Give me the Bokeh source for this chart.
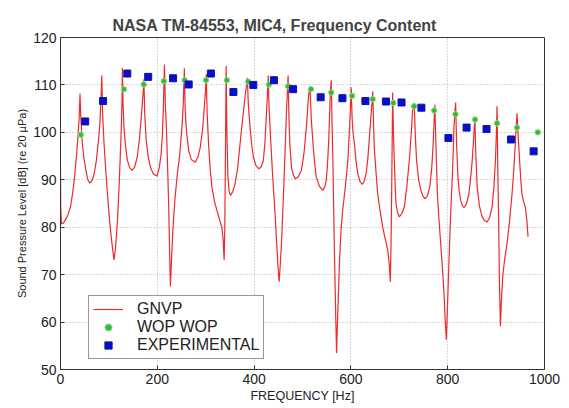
from bokeh.plotting import figure
from bokeh.models import ColumnDataSource, Legend, LegendItem, Range1d, FixedTicker
from bokeh.embed import file_html
from bokeh.resources import INLINE

# ---- data ----
gnvp_freq = [0, 0.5, 2, 6, 11, 16, 21, 25.5, 29, 33, 36, 38.5, 40.3,
             42, 45, 48.5, 52.5, 56.5, 60.5, 65, 69.5, 74, 78.5, 81.5, 83.5, 85.3,
             87, 90, 93.5, 97, 100.5, 104, 107.5, 110.7, 113.5, 116, 118.5, 121, 123.5, 125.7, 127.2, 127.8,
             129.5, 131.5, 134.5, 138, 143, 148, 153, 158.5, 163, 167.5, 170.5, 172.3,
             174, 177, 181, 186, 192, 199.5, 204, 208, 210.5, 212.5, 214.8,
             216.5, 219, 221.5, 223.7, 225.5, 227.1, 229.5, 232.6, 236.5, 240.8, 246, 251, 253.5, 255.9,
             257.5, 260, 264.8, 270, 278.5, 284, 288.8, 293.5, 297, 299.5, 301.1,
             303, 305.9, 309, 312.8, 318, 323, 328, 333.3, 336, 338.1, 339.5, 340.8, 342.2,
             343.8, 346, 348.5, 351, 356, 360.8, 366, 371, 376, 381.3, 386.1,
             388, 391.6, 395, 398.4, 404, 410.1, 415, 419, 422.5, 425.8, 427.8, 429.2,
             431, 434.7, 438.5, 442.9, 447, 449.5, 451.8, 454, 456.6, 459.5, 462.1, 464.5, 466.9, 468.8, 470.3,
             472, 473.8, 477.2, 481, 485.4, 491, 497.7, 503, 508, 511, 512.8, 515.5,
             518, 521.7, 525, 528.5, 535, 542.2, 546, 549.1, 551.5, 553.9, 555.8, 557.3, 559.4,
             561, 562.8, 564.5, 566.3, 568.5, 570.4, 572, 573.1, 576.6, 580, 583, 586.8, 590.5, 593.7, 596.5, 598.8, 600.6,
             602.5, 604.8, 607.4, 610.5, 614.3, 618.5, 623.2, 627.5, 631.4, 635, 638.3, 641.5, 643.5, 645.1,
             647, 648.6, 652, 655.4, 660.5, 665.7, 671, 676, 679, 681.5, 683, 684.2, 685.5, 686.3,
             688, 689.7, 691.5, 693.1, 696.5, 700, 705, 710.3, 715.5, 720.6, 724.5, 727.4, 730.9,
             733, 735.7, 740, 744.6, 749, 753.5, 758.5, 763.1, 767, 770, 772, 773.5,
             775.5, 778.7, 782, 785.5, 789, 792.4, 795, 797.2, 799.5, 802.7, 806, 809.5, 811.5, 812.9, 815, 816.4,
             818.5, 821.2, 823.5, 826.7, 830, 833.5, 838.5, 843.8, 847.5, 850.6, 853.5, 856.1,
             858, 860.9, 865.5, 871.2, 876, 881.4, 886.5, 891.7, 895.5, 898.6, 900.5, 902,
             903.5, 905.4, 907, 908.9, 911, 913.7, 918, 922.6, 928, 932.9, 936.5, 939.7, 941.5, 943.2,
             945.5, 948.6, 951, 953.4, 956.5, 960.3, 963.5, 966]
gnvp_spl = [92.5, 84, 80.7, 80.9, 81.7, 82.8, 84.5, 87.5, 90.5, 95, 99, 103, 108.2,
            103, 97.6, 94.5, 92, 90, 89.3, 89.8, 91.3, 94, 98.3, 102, 106.5, 112,
            104, 97.6, 92, 87, 82.5, 78.7, 75.5, 73.1, 75.5, 78.7, 83, 88.5, 95, 101, 107, 113.6,
            105, 100.5, 97, 94.2, 92.5, 92, 92.6, 94.8, 98.5, 104, 108, 111.2,
            104, 98.5, 95, 92.6, 91.2, 90.8, 92.5, 95.5, 99.5, 105, 114.3,
            106, 100.5, 92, 83.6, 75, 67.5, 73.5, 80, 86, 90.6, 95, 101, 105.5, 113.5,
            105, 100.5, 96.2, 94.3, 93.7, 94.8, 96.9, 100.5, 105.2, 108.5, 112.3,
            104, 97.6, 92.5, 88.5, 85.5, 83.6, 81.8, 80, 77.5, 73.1, 80, 95, 114,
            100, 90.5, 87.5, 86.7, 87.5, 89.2, 92.5, 97.6, 102.5, 107.5, 111.5,
            106, 101, 97.5, 94.8, 93, 92.3, 92.8, 94, 98, 104.5, 108.5, 112,
            105, 97.6, 90.5, 83.6, 76, 71.5, 68.5, 72, 76.6, 84, 90.6, 97.5, 104.5, 108.5, 112,
            103, 97.6, 92.7, 91, 90.2, 90.6, 92, 95.5, 101, 105.5, 108, 109.6,
            103, 97.6, 93.5, 90.6, 88.6, 87.8, 88.5, 89.9, 93, 97.6, 103, 108, 111,
            102, 94, 83, 73.1, 62, 53.5, 59, 62.6, 73, 80, 83.5, 87, 90.5, 94, 99.5, 104.5, 109.5,
            103, 99.5, 97.6, 94, 91.3, 89.7, 89, 89.7, 91.3, 94.5, 99, 103.5, 106, 108.6,
            101, 96.2, 91.5, 87, 83.3, 80, 77.5, 75.2, 72.5, 68.5, 77, 87, 100, 108.4,
            99.5, 94, 88.5, 85, 83, 82.2, 82.8, 84.3, 88.5, 94, 99.5, 104.5, 106.2,
            99.5, 94, 90, 87.8, 86.5, 86, 86.7, 88.5, 92.5, 97.6, 102.5, 105.8,
            98, 87, 81.5, 76.6, 71.5, 66.1, 60, 56.3, 63, 73.1, 82.5, 90.6, 96, 101, 104.5, 106.3,
            97, 90.6, 87.8, 85.7, 84.6, 84.1, 84.8, 87, 90.5, 94, 98.5, 103,
            95.5, 88.5, 84.5, 82.2, 81.4, 81.1, 82, 84.3, 88.5, 94, 99.5, 105.5,
            92, 80, 68, 59.1, 64.5, 69.6, 73.5, 76.6, 81.5, 87, 92, 97.6, 101, 104,
            99.5, 94, 90, 87, 85.5, 84.3, 81.5, 78]

wop_freq = [42, 131, 172, 213.5, 256.5, 300.6, 343.6, 387.5, 430.6, 470.3, 517.5,
            559.4, 602.6, 645.1, 687.6, 730.7, 771.8, 816, 856.5, 902, 943.2, 986]
wop_spl = [99.5, 109.1, 110.1, 110.8, 111, 111, 111, 110.7, 110.1, 109.7, 109.1,
           108.4, 107.7, 107, 106.2, 105.5, 104.6, 103.8, 102.7, 101.9, 101, 100]

exp_freq = [51, 88, 138, 181.2, 232.6, 264.8, 310.7, 357.3, 398.4, 441, 480.6,
            537.5, 582.5, 630, 672.4, 704.6, 745.7, 801.5, 839, 880.2, 931, 977.5]
exp_spl = [102.3, 106.6, 112.4, 111.7, 111.4, 110.1, 112.4, 108.5, 110, 111, 109.1,
           107.4, 107.2, 106.6, 106.5, 106.3, 105.2, 98.8, 101, 100.7, 98.5, 96]

x_ticks = [0, 200, 400, 600, 800, 1000]
y_ticks = [50, 60, 70, 80, 90, 100, 110, 120]

FONT = "Liberation Sans"

p = figure(width=569, height=408, output_backend="svg", toolbar_location=None,
           x_range=Range1d(0, 1000), y_range=Range1d(50, 120),
           min_border_left=60, min_border_right=25, min_border_top=37, min_border_bottom=39,
           title="NASA TM-84553, MIC4, Frequency Content")
p.background_fill_color = "white"
p.border_fill_color = "white"
p.outline_line_color = "#333333"
p.outline_line_width = 1

p.title.text_font = FONT
p.title.text_font_size = "16px"
p.title.text_font_style = "bold"
p.title.align = "left"
p.title.offset = 52
p.title.standoff = 8

src_g = ColumnDataSource(dict(x=gnvp_freq, y=gnvp_spl))
src_w = ColumnDataSource(dict(x=wop_freq, y=wop_spl))
src_e = ColumnDataSource(dict(x=exp_freq, y=exp_spl))

r_g = p.line("x", "y", source=src_g, line_color="#ee2a2a", line_width=1.2)
r_w = p.scatter("x", "y", source=src_w, marker="circle", size=5.5,
                fill_color="#33bb33", line_color="#8ae08a", line_width=1)
r_e = p.scatter("x", "y", source=src_e, marker="square", size=7,
                fill_color="#0a10c0", line_color="#0a10c0")

for ax, ticks in ((p.xaxis[0], x_ticks), (p.yaxis[0], y_ticks)):
    ax.ticker = FixedTicker(ticks=ticks)
    ax.major_tick_in = 4
    ax.major_tick_out = 0
    ax.minor_tick_line_color = None
    ax.axis_line_color = "#333333"
    ax.major_tick_line_color = "#333333"
    ax.major_label_text_font = FONT
    ax.major_label_text_font_size = "14px"
    ax.major_label_text_color = "#222222"
    ax.axis_label_text_font = FONT
    ax.axis_label_text_font_style = "normal"
    ax.axis_label_text_color = "#222222"

p.xaxis.axis_label = "FREQUENCY [Hz]"
p.xaxis.axis_label_text_font_size = "12.5px"
p.xaxis.major_label_standoff = 4
p.xaxis.axis_label_standoff = 2
p.yaxis.axis_label = "Sound Pressure Level [dB] (re 20 \u00b5Pa)"
p.yaxis.axis_label_text_font_size = "11px"
p.yaxis.major_label_standoff = 4
p.yaxis.axis_label_standoff = 2

for g in (p.xgrid[0], p.ygrid[0]):
    g.grid_line_color = "#b0b0b0"
    g.grid_line_dash = "1 2"
    g.grid_line_width = 1
p.xgrid.ticker = FixedTicker(ticks=x_ticks)
p.ygrid.ticker = FixedTicker(ticks=y_ticks)

legend = Legend(items=[LegendItem(label="GNVP", renderers=[r_g]),
                       LegendItem(label="WOP WOP", renderers=[r_w]),
                       LegendItem(label="EXPERIMENTAL", renderers=[r_e])],
                location=(28, 10))
legend.label_text_font = FONT
legend.label_text_font_size = "16px"
legend.label_text_color = "#222222"
legend.padding = 4
legend.spacing = 0
legend.label_height = 18
legend.glyph_height = 18
legend.glyph_width = 30
legend.label_standoff = 14
legend.border_line_color = "#333333"
legend.border_line_width = 1
legend.background_fill_alpha = 1
legend.margin = 0
p.add_layout(legend)

open("out.html", "w").write(file_html(p, INLINE))
